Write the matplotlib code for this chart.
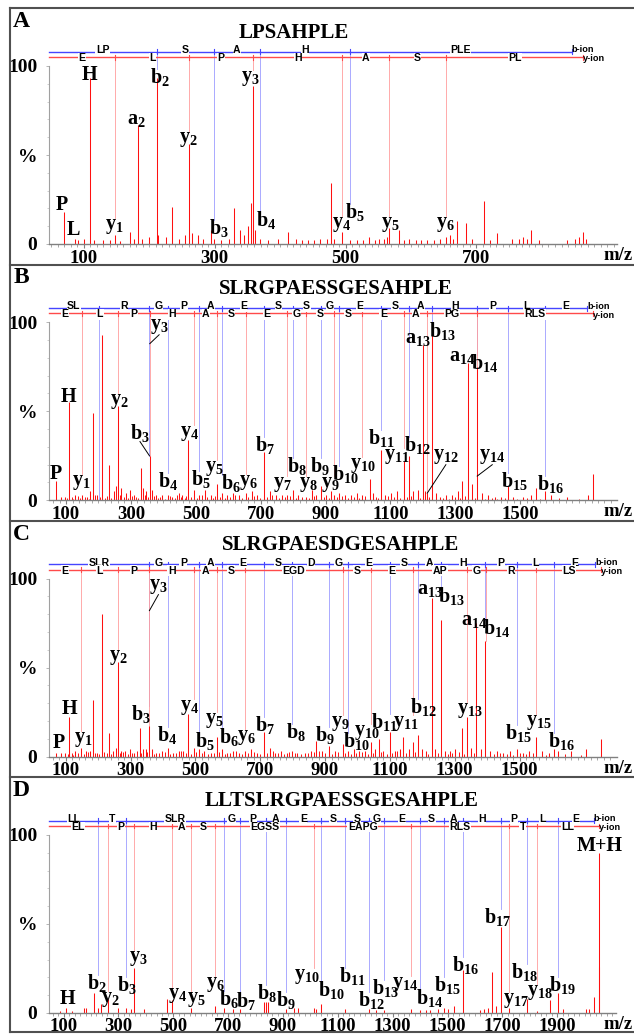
import numpy as np
import matplotlib
matplotlib.use("Agg")
import matplotlib.pyplot as plt
from matplotlib.lines import Line2D
from matplotlib.ticker import MultipleLocator

SERIF = "Liberation Serif"
SANS = "Liberation Sans"
plt.rcParams.update({
    "font.family": [SERIF, "DejaVu Serif"],
    "font.weight": "bold",
    "mathtext.fontset": "custom",
    "mathtext.rm": "Liberation Serif:bold",
    "mathtext.it": "Liberation Serif:bold",
    "mathtext.bf": "Liberation Serif:bold",
})

# ---------------- A: LPSAHPLE ----------------
A_seq = "LPSAHPLE"
A_mh = 863.45
A_mz = [70, 86, 91, 100, 110, 115, 129, 140, 148.06, 155,
        171, 177, 183, 189, 200, 211.14, 214, 226, 234, 245,
        254, 261.14, 266, 274, 282, 294, 298.17, 310, 322, 330,
        338, 344, 351, 355, 358.2, 361, 369.21, 381, 396, 412,
        424, 433, 443, 452, 461, 471, 477, 483, 495.26, 506.27,
        517, 527, 536, 545, 551, 558, 563, 566.29, 582, 590,
        597, 607, 616, 625, 635, 645, 653.32, 659, 664, 670,
        684, 693, 711, 721, 732, 755, 765, 771, 777, 783,
        795, 839, 850, 857, 863.45, 868]
A_int = [18, 3, 2, 3, 93, 2, 2, 2, 5, 1.5,
         7, 3, 67, 3, 4, 93, 5, 4, 21, 3,
         5, 56, 6, 5, 3, 8, 3, 2, 3, 20,
         8, 5, 10, 23, 89, 8, 3, 2, 3, 7,
         3, 2, 2.5, 2, 3, 3, 34, 3, 7, 2,
         2, 2, 4, 2, 3, 3, 4, 9, 8, 2,
         3, 2, 2, 2, 2.5, 3, 4, 5, 3, 13,
         12, 3, 24, 2, 6, 3, 3, 4, 3, 8,
         2, 2.5, 3, 4, 7, 3]
A_grass_mz = []
A_grass_int = []
A_b_pos = [211.14, 298.17, 369.21, 506.27]
A_b_res = ["LP", "S", "A", "H", "PLE"]
A_y_pos = [148.06, 261.14, 358.20, 495.26, 566.29, 653.32]
A_y_res = ["E", "L", "P", "H", "A", "S", "PL"]
A_labels = [("P", 66, 22), ("L", 84, 8), ("H", 108, 95), ("y1", 146, 10),
            ("a2", 180, 70.5), ("b2", 216, 94), ("y2", 259, 59), ("b3", 307, 9),
            ("y3", 355, 93), ("b4", 378, 13.5), ("y4", 494, 11), ("b5", 514, 18),
            ("y5", 568, 11), ("y6", 653, 11)]
A_leaders = {}

# ---------------- B: SLRGPAESSGESAHPLE ----------------
B_seq = "SLRGPAESSGESAHPLE"
B_mh = 1723.82
B_mz = [70, 85, 97, 110, 129, 148.06, 166, 175, 183, 197,
        211, 233, 247, 253, 261.14, 270, 285, 297, 310, 330,
        337, 347, 357.7, 366, 378, 397, 414.24, 428, 447, 459,
        477, 495.26, 511.3, 528, 547, 566.29, 582.33, 597, 615, 634,
        653.32, 672, 690, 711.37, 728, 747, 765, 782.37, 798.41, 815,
        839.39, 859, 871, 885.44, 903, 918, 926.42, 942.46, 959, 978,
        996, 1013.45, 1036, 1046, 1071.5, 1084, 1102, 1121, 1142.49, 1158.54,
        1171, 1184, 1201.6, 1208, 1213.53, 1229.57, 1240, 1252, 1271, 1290,
        1308, 1321, 1338.6, 1352, 1366.63, 1383, 1402, 1421, 1440, 1463.68,
        1477, 1508, 1533, 1548, 1576.77, 1595, 1645, 1708, 1723.82]
B_int = [11, 2, 2, 55, 3, 3, 2, 5, 49, 3,
         93, 20, 5, 8, 53, 7, 4, 6, 3, 18,
         7, 5, 25, 6, 3, 3, 3, 2, 4, 3,
         34, 6, 3, 6, 3, 9, 4, 3, 4, 3,
         4, 5, 3, 27, 5, 3, 3, 3, 6, 3,
         2, 6, 3, 8, 3, 5, 3, 4, 3, 3,
         4, 3, 12, 4, 28, 3, 4, 5, 22, 25,
         5, 6, 87, 5, 4, 93, 4, 2, 3, 3,
         5, 11, 77, 9, 75, 4, 3, 2, 2, 8,
         2, 2, 3, 7, 5, 3, 2, 3, 15]
B_grass_mz = [104, 117, 122, 136, 142, 157, 171, 189, 205, 219,
              226, 240, 266, 278, 290, 303, 317, 323, 342, 352,
              372, 385, 391, 405, 421, 435, 441, 453, 466, 471,
              484, 503, 518, 535, 553, 560, 574, 590, 604, 622,
              641, 660, 680, 698, 720, 736, 756, 774, 790, 808,
              826, 848, 866, 894, 911, 934, 951, 968, 987, 1004,
              1022, 1055, 1063, 1092, 1112, 1131, 1150, 1164, 1192, 1220,
              1261, 1280, 1299, 1315, 1330, 1360, 1392, 1412, 1430, 1452,
              1490, 1520, 1560, 1620, 1680]
B_grass_int = [1.5, 2, 1, 2.5, 1.5, 2, 1, 3, 2, 1.5,
               2.5, 1.5, 3, 2, 1.5, 2.5, 2, 1.5, 3, 2,
               2.5, 1.5, 2, 1, 2.5, 1.5, 3, 2, 1.5, 2.5,
               2, 1.5, 3, 2, 1.5, 2.5, 2, 1.5, 2, 3,
               1.5, 2, 2.5, 1.5, 2, 3, 1.5, 2, 2.5, 1.5,
               2, 1.5, 2.5, 2, 1.5, 2, 2.5, 1.5, 2, 1.5,
               2.5, 2, 1.5, 2.5, 2, 1.5, 2, 2.5, 1.5, 2,
               1.5, 1, 2, 1.5, 2.5, 1.5, 1, 1.5, 1, 1.5,
               1, 1.5, 1, 1.5, 1]
B_b_pos = [201.12, 357.22, 414.24, 511.30, 582.33, 711.37, 798.41, 885.44,
           942.46, 1071.50, 1158.54, 1229.57, 1366.63, 1463.68, 1576.77]
B_b_res = ["SL", "R", "G", "P", "A", "E", "S", "S", "G", "E", "S", "A",
           "H", "P", "L", "E"]
B_y_pos = [148.06, 261.14, 358.20, 495.26, 566.29, 653.32, 782.37, 839.39,
           926.42, 1013.45, 1142.49, 1213.53, 1367.60]
B_y_res = ["E", "L", "P", "H", "A", "S", "E", "G", "S", "S", "E", "A",
           "PG", "RLS"]
B_labels = [("P", 69, 15), ("y1", 147, 10), ("H", 107, 58), ("y2", 263, 56),
            ("y3", 387, 98), ("b3", 328, 38), ("y4", 482, 38), ("b4", 413, 11),
            ("b5", 516, 12), ("y5", 556, 18), ("b6", 607, 9.5), ("y6", 662, 10),
            ("b7", 712, 31), ("y7", 768, 9), ("b8", 813, 19), ("y8", 846, 9),
            ("b9", 884, 19), ("y9", 915, 9), ("b10", 961, 15), ("y10", 1015, 20),
            ("b11", 1071, 35), ("y11", 1121, 25), ("b12", 1184, 31),
            ("y12", 1271, 25), ("a13", 1184, 91), ("b13", 1261, 95),
            ("a14", 1321, 81), ("b14", 1389, 77), ("y14", 1414, 25),
            ("b15", 1481, 11), ("b16", 1593, 9)]
B_leaders = {"y3": 88, "b3": 25, "y12": 4, "y14": 13.6}

# ---------------- C: SLRGPAESDGESAHPLE ----------------
C_seq = "SLRGPAESDGESAHPLE"
C_mh = 1751.82
C_mz = [71, 86, 99, 111, 130, 148.06, 162, 175, 183, 197,
        211, 233, 247, 254, 261.14, 272, 284, 298, 312, 329,
        338, 347, 358.2, 366, 380, 398, 414.24, 430, 449, 462,
        477, 495.26, 511.3, 528, 547, 566.29, 582.33, 598, 616, 635,
        653.32, 672, 690, 711.37, 730, 747, 765, 782, 798.41, 815,
        839, 858, 873, 890, 913.43, 930, 954.42, 970.46, 988, 1006,
        1024, 1041.45, 1055, 1066, 1080, 1099.5, 1115, 1130, 1142, 1158,
        1170.49, 1186.53, 1200, 1210, 1229.6, 1240, 1257.57, 1270, 1285, 1300,
        1322, 1338.58, 1350, 1366.6, 1380, 1394.63, 1410, 1430, 1450, 1470,
        1491.68, 1510, 1530, 1551.7, 1570, 1590, 1604.76, 1620, 1660, 1706,
        1751.82]
C_int = [2, 2, 2, 22, 3, 5, 3, 3, 32, 2,
         80, 13, 3, 5, 53, 3, 3, 4, 2, 16,
         4, 4, 17, 4, 2, 3, 5, 2, 3, 3,
         24, 5, 4, 3, 2, 11, 4, 2, 3, 2,
         3, 4, 2, 14, 5, 2, 3, 2, 3, 2,
         2, 3, 9, 3, 6, 3, 7, 3, 4, 3,
         3, 8, 4, 10, 3, 14, 3, 4, 11, 4,
         8, 12, 4, 3, 89, 4, 77, 3, 3, 4,
         16, 22, 5, 75, 4, 65, 3, 3, 2, 3,
         4, 2, 3, 11, 3, 2, 4, 3, 3, 4,
         10]
C_grass_mz = [106, 118, 124, 138, 155, 168, 190, 204, 218, 226,
              240, 266, 278, 291, 305, 320, 333, 352, 372, 387,
              405, 422, 440, 455, 470, 485, 503, 520, 538, 556,
              574, 590, 607, 625, 645, 662, 681, 700, 720, 738,
              756, 773, 790, 806, 825, 848, 866, 882, 900, 922,
              940, 962, 979, 996, 1015, 1032, 1048, 1073, 1090, 1107,
              1122, 1150, 1178, 1218, 1248, 1278, 1292, 1312, 1330, 1358,
              1420, 1440, 1460, 1480, 1500, 1520, 1542, 1580, 1640, 1690]
C_grass_int = [1.5, 2, 1, 2, 1.5, 2.5, 2, 1.5, 2.5, 2,
               1.5, 2, 2.5, 1.5, 2, 3, 2, 2.5, 1.5, 2,
               2.5, 1.5, 2, 3, 2, 1.5, 2.5, 2, 1.5, 2,
               2.5, 1.5, 2, 3, 1.5, 2, 2.5, 1.5, 2, 3,
               2, 1.5, 2.5, 2, 1.5, 2, 2.5, 3, 2, 1.5,
               2.5, 2, 1.5, 2, 2.5, 1.5, 2, 2.5, 1.5, 2,
               3, 2, 2.5, 1.5, 2, 1.5, 2, 2.5, 1.5, 2,
               1.5, 2, 1.5, 1, 2, 1.5, 2, 1, 1.5, 1]
C_b_pos = [357.22, 414.24, 511.30, 582.33, 711.37, 798.41, 913.43, 970.46,
           1099.50, 1186.53, 1257.57, 1394.63, 1491.68, 1604.76]
C_b_res = ["SLR", "G", "P", "A", "E", "S", "D", "G", "E", "S", "A", "H",
           "P", "L", "E"]
C_y_pos = [148.06, 261.14, 358.20, 495.26, 566.29, 653.32, 954.42, 1041.45,
           1170.49, 1338.58, 1395.60, 1551.70]
C_y_res = ["E", "L", "P", "H", "A", "S", "EGD", "S", "E", "AP", "G", "R", "LS"]
C_labels = [("P", 79, 7.5), ("H", 113, 26.5), ("y1", 154, 10), ("y2", 263, 56),
            ("y3", 386, 96), ("b3", 333, 24), ("y4", 483, 28), ("b4", 414, 12),
            ("b5", 529, 9), ("y5", 557, 20.5), ("b6", 604, 11), ("y6", 657, 11),
            ("b7", 713, 18), ("b8", 810, 14), ("b9", 898, 12), ("y9", 948, 19),
            ("b10", 998, 8.5), ("y10", 1029, 14), ("b11", 1083, 19.6),
            ("y11", 1148, 18.7), ("b12", 1204, 28), ("a13", 1223, 94),
            ("b13", 1291, 90), ("y13", 1347, 26), ("a14", 1360, 76.6),
            ("b14", 1429, 72), ("b15", 1497, 13.5), ("y15", 1560, 19.6),
            ("b16", 1628, 9)]
C_leaders = {"y3": 82}

# ---------------- D: LLTSLRGPAESSGESAHPLE ----------------
D_seq = "LLTSLRGPAESSGESAHPLE"
D_mh = 2051.04
D_mz = [86, 110.5, 130, 175, 183, 211, 227.18, 235, 261.14, 298,
        328.22, 345, 358.2, 394, 478, 495.26, 566.29, 653.32, 684.44, 719,
        741.46, 832, 838.51, 847, 909.55, 940, 955, 1013.45, 1020, 1038.59,
        1125.62, 1212.66, 1240, 1269.68, 1367.6, 1398.72, 1420, 1437, 1464, 1485.75,
        1500, 1523.7, 1556.79, 1620, 1634, 1649, 1663, 1678, 1693.85, 1723.82,
        1790.9, 1824.87, 1874, 1903.98, 1922, 2006, 2015, 2033.03, 2051.04, 2054]
D_int = [1, 2.5, 1, 3, 3, 11, 3, 5, 8, 3,
         3, 2, 25, 2, 8, 7, 3, 4, 3, 2,
         2, 6, 6, 6, 2, 3, 3, 3, 2, 5,
         2, 2, 1.5, 1.5, 2, 1.5, 1.5, 1.5, 2, 3,
         2, 4, 24, 1.5, 2, 3, 23, 4, 48, 3,
         8, 1, 7, 11, 2, 2, 2, 9, 90, 26]
D_grass_mz = []
D_grass_int = []
D_b_pos = [227.18, 328.22, 684.44, 741.46, 838.51, 909.55, 1038.59, 1125.62,
           1212.66, 1269.68, 1398.72, 1485.75, 1556.79, 1693.85, 1790.90, 1903.98]
D_b_res = ["LL", "T", "SLR", "G", "P", "A", "E", "S", "S", "G", "E", "S",
           "A", "H", "P", "L", "E"]
D_y_pos = [261.14, 358.20, 495.26, 566.29, 653.32, 1013.45, 1367.60,
           1723.82, 1824.87]
D_y_res = ["EL", "P", "H", "A", "S", "EGSS", "EAPG", "RLS", "T", "LL"]
D_labels = [("H", 114, 8), ("b2", 220, 17), ("y2", 272, 8), ("b3", 331, 15.5),
            ("y3", 372, 31), ("y4", 515, 10), ("y5", 583, 8), ("y6", 652, 16),
            ("b6", 703, 8), ("b7", 763, 6.5), ("b8", 840, 11), ("b9", 911, 7),
            ("y10", 985, 21), ("b10", 1076, 13), ("b11", 1154, 21),
            ("b12", 1221, 7), ("b13", 1272, 14), ("y14", 1346, 16),
            ("b14", 1435, 8.5), ("b15", 1498, 15.5), ("b16", 1564, 27),
            ("b17", 1683, 54), ("b18", 1781, 23), ("y17", 1748, 7),
            ("y18", 1838, 12), ("b19", 1919, 15.5), ("M+H", 2054, 94)]
D_leaders = {}

PANELS = [
    dict(tag="A", seq=A_seq, mh=A_mh, mz=A_mz, inten=A_int,
         gmz=A_grass_mz, gint=A_grass_int, b_pos=A_b_pos,
         b_res=A_b_res, y_pos=A_y_pos, y_res=A_y_res, labels=A_labels,
         leaders=A_leaders, xlim=(46, 914), major=[100, 300, 500, 700],
         minor=10, title_x=294),
    dict(tag="B", seq=B_seq, mh=B_mh, mz=B_mz, inten=B_int,
         gmz=B_grass_mz, gint=B_grass_int, b_pos=B_b_pos,
         b_res=B_b_res, y_pos=B_y_pos, y_res=B_y_res, labels=B_labels,
         leaders=B_leaders, xlim=(46, 1797), major=list(range(100, 1600, 200)),
         minor=20, title_x=336),
    dict(tag="C", seq=C_seq, mh=C_mh, mz=C_mz, inten=C_int,
         gmz=C_grass_mz, gint=C_grass_int, b_pos=C_b_pos,
         b_res=C_b_res, y_pos=C_y_pos, y_res=C_y_res, labels=C_labels,
         leaders=C_leaders, xlim=(47, 1799), major=list(range(100, 1600, 200)),
         minor=20, title_x=341),
    dict(tag="D", seq=D_seq, mh=D_mh, mz=D_mz, inten=D_int,
         gmz=D_grass_mz, gint=D_grass_int, b_pos=D_b_pos,
         b_res=D_b_res, y_pos=D_y_pos, y_res=D_y_res, labels=D_labels,
         leaders=D_leaders, xlim=(45, 2116), major=list(range(100, 2000, 200)),
         minor=20, title_x=342),
]

W, H = 634, 1034
X0, X1 = 48.5, 616.5
PEAK = "#ff1010"
LAD = {"b": ("#4545ff", "#9c9cff"), "y": ("#ff4a4a", "#ff9c9c")}
LAD_Y = {"b": 108.0, "y": 105.0}
TXT_OFF = {"b": 1.0, "y": -0.6}
TAG_OFF = {"b": 1.0, "y": -1.0}


def ion_text(name):
    if name[0] in "aby" and name[1:].isdigit():
        return rf"${name[0]}_{{{name[1:]}}}$"
    return name


def peak_height(mz, inten, m):
    arr = np.asarray(mz, dtype=float)
    i = int(np.argmin(np.abs(arr - m)))
    return inten[i] if abs(arr[i] - m) <= 3 else 0.0


def draw_panel(fig, k, p):
    top = 8 + 256.3 * k
    ax = fig.add_axes([X0 / W, 1 - (top + 236) / H, (X1 - X0) / W, 178 / H])
    ax.set_xlim(*p["xlim"])
    ax.set_ylim(0, 100)
    xmin = p["xlim"][0]

    ax.vlines(p["mz"], 0, p["inten"], color=PEAK, lw=0.75, zorder=2)
    if p["gmz"]:
        ax.vlines(p["gmz"], 0, p["gint"], color=PEAK, lw=0.7, zorder=2)

    labels = {n: (x, y) for n, x, y in p["labels"]}
    ion_mz = {}
    for row in ("b", "y"):
        pos = p[row + "_pos"]
        res = p[row + "_res"]
        end = p["mh"] - 18.01 if row == "b" else p["mh"]
        ly = LAD_Y[row]
        col, lcol = LAD[row]
        ax.plot([xmin, end], [ly, ly], color=col, lw=1.0, clip_on=False, zorder=3)
        for xb in pos + [end]:
            ax.plot([xb, xb], [ly - 1.4, ly + 1.4], color=col, lw=0.8,
                    clip_on=False, zorder=3)
        bounds = [xmin] + pos + [end]
        for i, r in enumerate(res):
            mid = (bounds[i] + bounds[i + 1]) / 2
            ax.text(mid, ly + TXT_OFF[row], r, family=SANS, fontsize=7.6,
                    weight="bold", ha="center", va="center", zorder=4,
                    clip_on=False,
                    bbox=dict(facecolor="white", edgecolor="none", pad=0.2))
        for i, m in enumerate(pos):
            name = f"{row}{sum(len(r) for r in res[:i + 1])}"
            ion_mz[name] = m
            bottom = peak_height(p["mz"], p["inten"], m)
            if name in labels and name not in p["leaders"]:
                bottom = labels[name][1] + 4.5
            ax.plot([m, m], [ly, bottom], color=lcol, lw=0.6, zorder=1,
                    clip_on=False)
        ax.text(end, ly + TAG_OFF[row], f"{row}-ion", family=SANS, fontsize=6.6,
                weight="bold", ha="left", va="center", clip_on=False, zorder=4)

    for name, x, y in p["labels"]:
        ax.text(x, y, ion_text(name), fontsize=14.5, ha="center", va="center",
                zorder=5, clip_on=False)
    for name, ty in p["leaders"].items():
        x, y = labels[name]
        ax.plot([x, ion_mz[name]], [y - 5, ty], color="black", lw=0.7, zorder=5)

    for s in ("top", "right"):
        ax.spines[s].set_visible(False)
    ax.spines["left"].set_color("#a0a0a0")
    ax.spines["left"].set_linewidth(0.8)
    ax.spines["bottom"].set_color("#808080")
    ax.spines["bottom"].set_linewidth(1.0)
    ax.set_xticks(p["major"])
    ax.set_xticklabels([str(v) for v in p["major"]])
    ax.xaxis.set_minor_locator(MultipleLocator(p["minor"]))
    ax.tick_params(axis="x", which="major", length=3, width=0.8, color="#808080",
                   pad=1.0, labelsize=13.5)
    ax.tick_params(axis="x", which="minor", length=1.8, width=0.6, color="#999999")
    ax.set_yticks([0, 50, 100])
    ax.set_yticklabels(["0", "%", "100"])
    ax.yaxis.set_minor_locator(MultipleLocator(10))
    ax.tick_params(axis="y", which="major", length=2, width=0.6, color="#aaaaaa",
                   pad=6, labelsize=14)
    ax.tick_params(axis="y", which="minor", length=1.2, width=0.5, color="#bbbbbb")

    fig.text(618 / W, 1 - (top + 247.5) / H, "m/z", fontsize=13.5, ha="center",
             va="center")
    fig.text(21 / W, 1 - (top + 13.5) / H, p["tag"], fontsize=17, ha="center",
             va="center")
    fig.text(p["title_x"] / W, 1 - (top + 24.5) / H, p["seq"], fontsize=15,
             ha="center", va="center")


fig = plt.figure(figsize=(W / 100, H / 100), dpi=100)
for k, p in enumerate(PANELS):
    draw_panel(fig, k, p)

# panel frames
for yb in (8, 264.5, 521, 777, 1032):
    fig.add_artist(Line2D([10 / W, 1], [1 - yb / H, 1 - yb / H], color="#505050",
                          lw=1.5, transform=fig.transFigure))
fig.add_artist(Line2D([10 / W, 10 / W], [1 - 8 / H, 1 - 1032 / H], color="#505050",
                      lw=1.5, transform=fig.transFigure))

fig.savefig("out.png", dpi=100)
